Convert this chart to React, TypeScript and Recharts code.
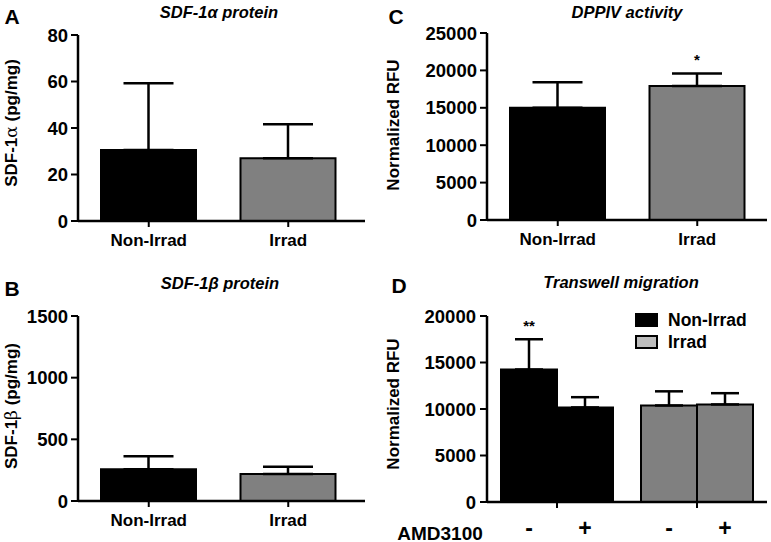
import React from "react";
import {Bar, BarChart, Cell, ErrorBar, LabelList, Legend, XAxis, YAxis} from "recharts";

const FONT = '"Liberation Sans", Arial, Helvetica, sans-serif';
const SERIF = '"DejaVu Serif", "Liberation Serif", serif';

const groups = ['Non-Irrad', 'Irrad'];
const barFill = ['#000000', '#808080'];
const legendFill = ['#000000', '#bdbdbd'];

// A - SDF-1a protein (pg/mg)
const sdf1aMean = [30.5, 27];
const sdf1aErr = [28.7, 14.6];
const sdf1aTicks = [0, 20, 40, 60, 80];

// B - SDF-1b protein (pg/mg)
const sdf1bMean = [258, 218];
const sdf1bErr = [105, 60];
const sdf1bTicks = [0, 500, 1000, 1500];

// C - DPPIV activity (RFU)
const dppivMean = [15000, 17900];
const dppivErr = [3400, 1700];
const dppivStars = ['', '*'];
const dppivTicks = [0, 5000, 10000, 15000, 20000, 25000];

// D - transwell migration, without / with AMD3100
const amdLabels = ['-', '+'];
const migMinusMean = [14250, 10380];
const migMinusErr = [3250, 1520];
const migPlusMean = [10170, 10490];
const migPlusErr = [1100, 1210];
const migStars = ['**', ''];
const migTicks = [0, 5000, 10000, 15000, 20000];

const makeRows = (mean: number[], err: number[], stars?: string[]) =>
  groups.map((g, i) => ({group: g, mean: mean[i], err: [0, err[i]], star: stars ? stars[i] : ''}));

const axisLine = {stroke: '#000', strokeWidth: 2.5};
const tickLine = {stroke: '#000', strokeWidth: 2};
const yTick = {fill: '#000', fontSize: 18.5, fontWeight: 700, fontFamily: FONT};
const xTick = {fill: '#000', fontSize: 17, fontWeight: 700, fontFamily: FONT};

const starLabel = (mean: number[], err: number[]) => (props: any) => {
  const {x, y, width, height, value, index} = props;
  if (!value) return null;
  const errPx = (err[index] * height) / mean[index];
  return (
    <text x={x + width / 2} y={y - errPx - 8} textAnchor="middle" fontSize={15} fontWeight={700}
          fontFamily={FONT} fill="#000">{value}</text>
  );
};

type PanelProps = {
  left: number, top: number, width: number, height: number,
  yWidth: number, margin: any, padRight: number,
  mean: number[], err: number[], ticks: number[], stars?: string[],
}

const SimplePanel: React.FC<PanelProps> = (p) => {
  const data = makeRows(p.mean, p.err, p.stars);
  const max = p.ticks[p.ticks.length - 1];
  return (
    <div style={{position: 'absolute', left: p.left, top: p.top}}>
      <BarChart width={p.width} height={p.height} data={data} margin={p.margin}>
        <XAxis dataKey="group" axisLine={axisLine} tickLine={tickLine} tickSize={6} tickMargin={7}
               tick={xTick} height={30} padding={{left: 1, right: p.padRight}} interval={0}/>
        <YAxis domain={[0, max]} ticks={p.ticks} width={p.yWidth} axisLine={axisLine} tickLine={tickLine}
               tickSize={7} tickMargin={3} tick={yTick} interval={0}/>
        <Bar dataKey="mean" barSize={95} stroke="#000" strokeWidth={2} isAnimationActive={false}>
          {data.map((d, i) => <Cell key={d.group} fill={barFill[i]}/>)}
          <ErrorBar dataKey="err" width={25} stroke="#000" strokeWidth={2.5} direction="y"
                    isAnimationActive={false}/>
          {p.stars && <LabelList dataKey="star" content={starLabel(p.mean, p.err)}/>}
        </Bar>
      </BarChart>
    </div>
  );
};

const migData = groups.map((g, i) => ({
  group: g,
  minus: migMinusMean[i], minusErr: [0, migMinusErr[i]],
  plus: migPlusMean[i], plusErr: [0, migPlusErr[i]],
  star: migStars[i],
}));

const MIG_BAR = 56;

const AmdTick = (props: any) => {
  const {x, y} = props;
  return (
    <g>
      {amdLabels.map((s, i) => (
        <text key={i} x={x + (MIG_BAR / 2) * (2 * i - (amdLabels.length - 1))} y={y + 21}
              textAnchor="middle" fontSize={23} fontWeight={700} fontFamily={FONT} fill="#000">{s}</text>
      ))}
    </g>
  );
};

const migLegend = () => (
  <div style={{fontFamily: FONT, fontWeight: 700, fontSize: 17.5, lineHeight: '22px'}}>
    {groups.map((g, i) => (
      <div key={g} style={{display: 'flex', alignItems: 'center'}}>
        <span style={{display: 'inline-block', width: 19, height: 10, background: legendFill[i],
          border: '2px solid #000', marginRight: 10}}/>
        <span>{g}</span>
      </div>
    ))}
  </div>
);

const MigrationPanel: React.FC = () => (
  <div style={{position: 'absolute', left: 390, top: 270}}>
    <BarChart width={381} height={272} data={migData} barGap={0}
              margin={{top: 46, right: 4, bottom: 10, left: 0}}>
      <XAxis dataKey="group" axisLine={axisLine} tickLine={tickLine} tickSize={6} tickMargin={7}
             tick={<AmdTick/>} height={30} interval={0}/>
      <YAxis domain={[0, 20000]} ticks={migTicks} width={97} axisLine={axisLine} tickLine={tickLine}
             tickSize={7} tickMargin={4} tick={yTick} interval={0}/>
      <Legend content={migLegend} layout="vertical" align="center" verticalAlign="middle"
              wrapperStyle={{left: 245, top: 39, width: 130}}/>
      <Bar dataKey="minus" barSize={MIG_BAR} stroke="#000" strokeWidth={2} isAnimationActive={false}>
        {migData.map((d, i) => <Cell key={d.group} fill={barFill[i]}/>)}
        <ErrorBar dataKey="minusErr" width={14} stroke="#000" strokeWidth={2.5} direction="y"
                  isAnimationActive={false}/>
        <LabelList dataKey="star" content={starLabel(migMinusMean, migMinusErr)}/>
      </Bar>
      <Bar dataKey="plus" barSize={MIG_BAR} stroke="#000" strokeWidth={2} isAnimationActive={false}>
        {migData.map((d, i) => <Cell key={d.group} fill={barFill[i]}/>)}
        <ErrorBar dataKey="plusErr" width={14} stroke="#000" strokeWidth={2.5} direction="y"
                  isAnimationActive={false}/>
      </Bar>
    </BarChart>
  </div>
);

const Txt: React.FC<{x: number, y: number, size: number, italic?: boolean, children: React.ReactNode}> =
  ({x, y, size, italic, children}) => (
    <div style={{position: 'absolute', left: x, top: y, transform: 'translate(-50%, -50%)', whiteSpace: 'nowrap',
      fontFamily: FONT, fontWeight: 700, fontStyle: italic ? 'italic' : 'normal', fontSize: size, lineHeight: 1}}>
      {children}
    </div>
  );

const VLabel: React.FC<{x: number, y: number, children: React.ReactNode}> = ({x, y, children}) => (
  <div style={{position: 'absolute', left: x, top: y, transform: 'translate(-50%, -50%) rotate(-90deg)',
    whiteSpace: 'nowrap', fontFamily: FONT, fontWeight: 700, fontSize: 17, lineHeight: 1}}>
    {children}
  </div>
);

const greek = {fontFamily: SERIF, fontWeight: 400};

export default function App() {
  return (
    <div style={{position: 'absolute', left: 0, top: 0, width: 771, height: 542, background: '#fff', overflow: 'hidden'}}>
      <SimplePanel left={0} top={0} width={390} height={270} yWidth={78} padRight={7}
                   margin={{top: 35, right: 25, bottom: 19, left: 0}}
                   mean={sdf1aMean} err={sdf1aErr} ticks={sdf1aTicks}/>
      <SimplePanel left={0} top={270} width={390} height={272} yWidth={78} padRight={7}
                   margin={{top: 46, right: 25, bottom: 11, left: 0}}
                   mean={sdf1bMean} err={sdf1bErr} ticks={sdf1bTicks}/>
      <SimplePanel left={390} top={0} width={381} height={270} yWidth={97} padRight={0}
                   margin={{top: 33, right: 4, bottom: 20, left: 0}}
                   mean={dppivMean} err={dppivErr} ticks={dppivTicks} stars={dppivStars}/>
      <MigrationPanel/>

      <Txt x={12} y={16} size={21}>A</Txt>
      <Txt x={12} y={288} size={21}>B</Txt>
      <Txt x={396} y={16} size={21}>C</Txt>
      <Txt x={399} y={285} size={21}>D</Txt>

      <Txt x={219} y={12} size={16.5} italic>SDF-1α protein</Txt>
      <Txt x={220} y={283} size={16.5} italic>SDF-1β protein</Txt>
      <Txt x={627} y={12} size={16.5} italic>DPPIV activity</Txt>
      <Txt x={621} y={282} size={16.5} italic>Transwell migration</Txt>

      <VLabel x={11} y={123}>SDF-1<span style={greek}>α</span> (pg/mg)</VLabel>
      <VLabel x={11} y={406}>SDF-1<span style={greek}>β</span> (pg/mg)</VLabel>
      <VLabel x={393} y={125}>Normalized RFU</VLabel>
      <VLabel x={393} y={404}>Normalized RFU</VLabel>

      <Txt x={440} y={533} size={19}>AMD3100</Txt>
    </div>
  );
}
